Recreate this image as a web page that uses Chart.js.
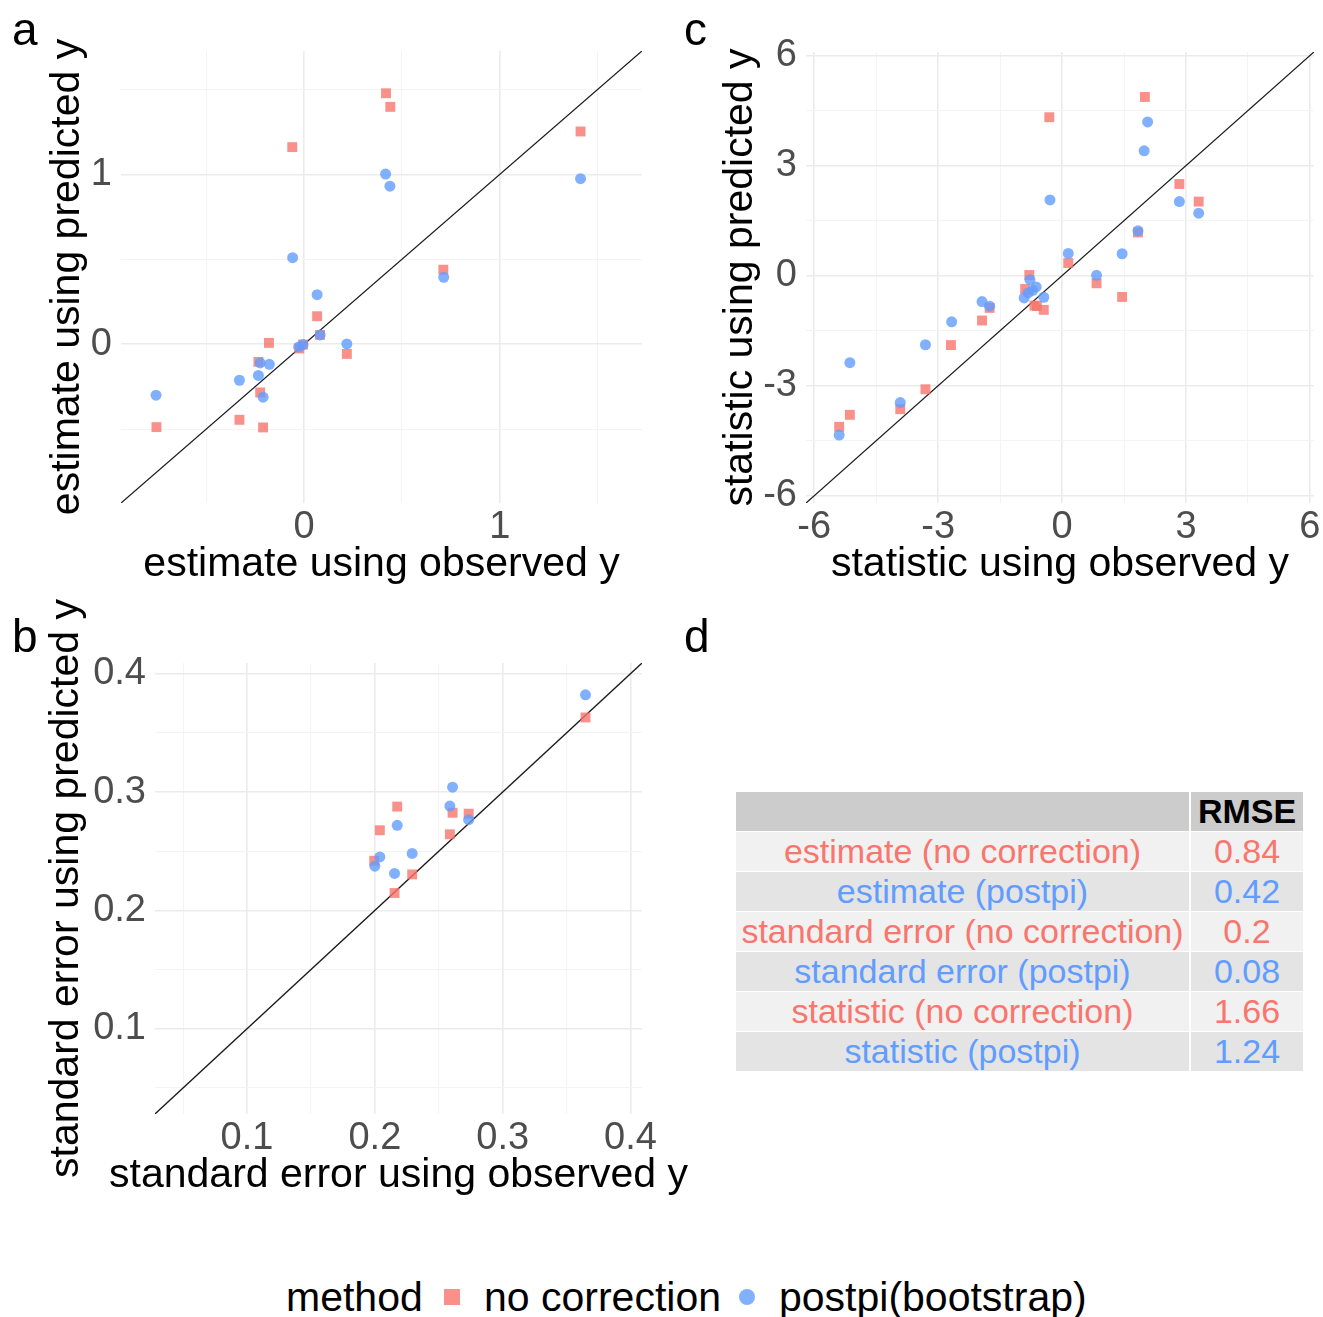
<!DOCTYPE html>
<html>
<head>
<meta charset="utf-8">
<script src="https://cdn.jsdelivr.net/npm/chart.js@4.4.1/dist/chart.umd.min.js"></script>
<style>
  body { margin: 0; background: #fff; font-family: "Liberation Sans", Arial, sans-serif; }
  #page { position: relative; width: 1323px; height: 1317px; overflow: hidden; background: #fff; }
  canvas { position: absolute; }
  .tag { position: absolute; font-size: 46px; line-height: 1; color: #000; }
  #rmse { position: absolute; left: 736px; top: 792px; border-collapse: separate; border-spacing: 0; font-size: 34px; }
  #rmse td, #rmse th { box-sizing: border-box; padding: 0; text-align: center; white-space: nowrap; border-bottom: 1px solid #fff; }
  #rmse th { background: #cccccc; height: 38px; font-weight: bold; color: #000; }
  #rmse td.val, #rmse th.val { border-left: 2px solid #fff; width: 114px; }
  #rmse td.lab, #rmse th.lab { width: 453px; }
  #rmse tr.odd td { background: #f1f1f1; height: 39.67px; }
  #rmse tr.even td { background: #e4e4e4; height: 39.67px; }
  .leg { position: absolute; font-size: 41px; line-height: 1; color: #000; top: 1277px; }
  .key { position: absolute; width: 16px; height: 16px; }
</style>
</head>
<body>
<div id="page">
  <canvas id="chartA" width="670" height="600" style="left:0px;top:0px"></canvas>
  <canvas id="chartC" width="653" height="600" style="left:670px;top:0px"></canvas>
  <canvas id="chartB" width="720" height="621" style="left:0px;top:590px"></canvas>

  <div class="tag" style="left:12px;top:6px">a</div>
  <div class="tag" style="left:12px;top:613px">b</div>
  <div class="tag" style="left:684px;top:6px">c</div>
  <div class="tag" style="left:684px;top:613px">d</div>

  <table id="rmse"></table>

  <div class="leg" style="left:286px">method</div>
  <div class="key" style="left:444px;top:1289px;background:rgba(248,118,109,0.8)"></div>
  <div class="leg" style="left:484px">no correction</div>
  <div class="key" style="left:739px;top:1289px;background:rgba(97,156,255,0.8);border-radius:50%"></div>
  <div class="leg" style="left:779px">postpi(bootstrap)</div>
</div>

<script>
// panel a: estimates
const estObsNoCorr  = [0.419, 0.441, -0.060, 1.413, 0.712, 0.067, 0.082, -0.179, -0.024, -0.005, 0.219, -0.233, -0.224, -0.330, -0.754, -0.209];
const estPredNoCorr = [1.478, 1.398, 1.161, 1.253, 0.439, 0.165, 0.055, 0.008, -0.025, -0.002, -0.057, -0.104, -0.284, -0.445, -0.488, -0.490];
const estObsPostpi  = [0.417, 0.439, 1.413, -0.058, 0.714, 0.067, 0.082, 0.219, -0.027, -0.005, -0.224, -0.177, -0.233, -0.330, -0.756, -0.209];
const estPredPostpi = [1.002, 0.931, 0.975, 0.510, 0.394, 0.292, 0.055, 0.002, -0.016, -0.002, -0.110, -0.118, -0.184, -0.212, -0.300, -0.312];

// panel b: standard errors
const seObsNoCorr  = [0.3648, 0.2175, 0.2608, 0.2734, 0.2039, 0.2587, 0.1995, 0.2292, 0.2154];
const sePredNoCorr = [0.3630, 0.2877, 0.2825, 0.2817, 0.2677, 0.2643, 0.2419, 0.2304, 0.2147];
const seObsPostpi  = [0.3648, 0.2608, 0.2587, 0.2734, 0.2175, 0.2292, 0.2039, 0.2000, 0.2154];
const sePredPostpi = [0.3821, 0.3041, 0.2881, 0.2766, 0.2719, 0.2481, 0.2452, 0.2374, 0.2312];

// panel c: statistics
const stObsNoCorr  = [2.005, -0.309, 2.840, 3.308, 1.838, 0.150, -0.794, -0.894, 0.835, 1.454, -1.754, -0.668, -0.610, -0.443, -1.938, -2.690, -3.308, -3.918, -5.138, -5.397];
const stPredNoCorr = [4.873, 4.321, 2.500, 2.020, 1.178, 0.344, 0.018, -0.362, -0.208, -0.580, -0.879, -0.815, -0.830, -0.933, -1.223, -1.893, -3.098, -3.641, -3.795, -4.121];
const stObsPostpi  = [2.072, 1.988, -0.292, 2.840, 3.308, 1.838, 0.150, 1.454, 0.835, -0.777, -0.627, -0.710, -0.819, -0.919, -0.443, -1.938, -1.754, -2.673, -3.308, -5.138, -3.918, -5.397];
const stPredPostpi = [4.194, 3.406, 2.065, 2.020, 1.703, 1.223, 0.607, 0.598, 0.009, -0.109, -0.308, -0.399, -0.471, -0.607, -0.589, -0.707, -0.833, -1.259, -1.884, -2.373, -3.460, -4.348];

// axis limits and ticks
const estLim = [-0.935, 1.727];
const estGrid = [-0.5, 0, 0.5, 1, 1.5];
const estMajor = [0, 1];
const estLabels = ['0', '1'];

const seLim = [0.028, 0.409];
const seGrid = [0.05, 0.1, 0.15, 0.2, 0.25, 0.3, 0.35, 0.4];
const seMajor = [0.1, 0.2, 0.3, 0.4];
const seLabels = ['0.1', '0.2', '0.3', '0.4'];

const stLim = [-6.2, 6.1];
const stGrid = [-6, -4.5, -3, -1.5, 0, 1.5, 3, 4.5, 6];
const stMajor = [-6, -3, 0, 3, 6];
const stLabels = ['-6', '-3', '0', '3', '6'];

// RMSE table
const rmseRows = ['estimate (no correction)', 'estimate (postpi)', 'standard error (no correction)', 'standard error (postpi)', 'statistic (no correction)', 'statistic (postpi)'];
const rmseValues = ['0.84', '0.42', '0.2', '0.08', '1.66', '1.24'];

const RED = 'rgba(248, 118, 109, 0.8)';
const BLUE = 'rgba(97, 156, 255, 0.8)';
const RED_TXT = '#F8766D';
const BLUE_TXT = '#619CFF';
const FONT = '"Liberation Sans", Arial, sans-serif';

Chart.defaults.font.family = FONT;

function toPoints(xs, ys) {
    return xs.map((x, i) => ({ x: x, y: ys[i] }));
}

function findMajor(value, majors) {
    return majors.findIndex(m => Math.abs(m - value) < 1e-9);
}

// x title drawn by hand so that long titles are not squeezed to the axis width
const xTitlePlugin = {
    id: 'xTitle',
    afterDraw(chart, args, pluginOpts) {
        const { ctx, chartArea } = chart;
        ctx.save();
        ctx.font = '41px ' + FONT;
        ctx.fillStyle = '#000';
        ctx.textAlign = 'center';
        ctx.textBaseline = 'middle';
        ctx.fillText(pluginOpts.text, (chartArea.left + chartArea.right) / 2, chartArea.bottom + 62);
        ctx.restore();
    }
};

function makeAxis(opts, isX) {
    const axis = {
        type: 'linear',
        min: opts.lim[0],
        max: opts.lim[1],
        border: { display: false },
        grid: {
            drawTicks: false,
            color: ctx => findMajor(ctx.tick.value, opts.major) >= 0 ? '#ebebeb' : '#f4f4f4',
            lineWidth: ctx => findMajor(ctx.tick.value, opts.major) >= 0 ? 1.6 : 1
        },
        ticks: {
            autoSkip: false,
            maxRotation: 0,
            color: '#4d4d4d',
            font: { size: 38 },
            padding: isX ? 2 : 9,
            callback: value => {
                const k = findMajor(value, opts.major);
                return k >= 0 ? opts.labels[k] : '';
            }
        },
        afterBuildTicks: scale => {
            scale.ticks = opts.grid.map(v => ({ value: v }));
        }
    };
    if (isX) {
        axis.title = { display: false };
        axis.afterFit = scale => { scale.height = 97; };
    } else {
        axis.title = {
            display: true,
            text: opts.yTitle,
            color: '#000',
            font: { size: 41, lineHeight: 1.2 },
            padding: { top: opts.yTitlePad, bottom: 0 }
        };
        axis.afterFit = scale => { scale.width = opts.yWidth; };
    }
    return axis;
}

function drawPanel(id, opts) {
    const ctx = document.getElementById(id);
    return new Chart(ctx, {
        type: 'scatter',
        data: {
            datasets: [
                {
                    label: 'postpi(bootstrap)',
                    data: toPoints(opts.obsPostpi, opts.predPostpi),
                    pointStyle: 'circle',
                    pointRadius: 5.5,
                    backgroundColor: BLUE,
                    borderWidth: 0
                },
                {
                    label: 'no correction',
                    data: toPoints(opts.obsNoCorr, opts.predNoCorr),
                    pointStyle: 'rect',
                    pointRadius: 7,
                    backgroundColor: RED,
                    borderWidth: 0
                },
                {
                    type: 'line',
                    label: 'y = x',
                    data: [{ x: opts.lim[0] - 1, y: opts.lim[0] - 1 }, { x: opts.lim[1] + 1, y: opts.lim[1] + 1 }],
                    borderColor: '#1a1a1a',
                    borderWidth: 1.3,
                    pointRadius: 0,
                    fill: false
                }
            ]
        },
        options: {
            responsive: false,
            devicePixelRatio: 1,
            animation: false,
            events: [],
            layout: { padding: opts.padding },
            plugins: {
                legend: { display: false },
                tooltip: { enabled: false },
                xTitle: { text: opts.xTitle }
            },
            scales: {
                x: makeAxis(opts, true),
                y: makeAxis(opts, false)
            }
        },
        plugins: [xTitlePlugin]
    });
}

drawPanel('chartA', {
    obsNoCorr: estObsNoCorr, predNoCorr: estPredNoCorr,
    obsPostpi: estObsPostpi, predPostpi: estPredPostpi,
    lim: estLim, grid: estGrid, major: estMajor, labels: estLabels,
    xTitle: 'estimate using observed y', yTitle: 'estimate using predicted y',
    yWidth: 121, yTitlePad: 43,
    padding: { left: 0, right: 28, top: 51, bottom: 0 }
});

drawPanel('chartC', {
    obsNoCorr: stObsNoCorr, predNoCorr: stPredNoCorr,
    obsPostpi: stObsPostpi, predPostpi: stPredPostpi,
    lim: stLim, grid: stGrid, major: stMajor, labels: stLabels,
    xTitle: 'statistic using observed y', yTitle: 'statistic using predicted y',
    yWidth: 136, yTitlePad: 46,
    padding: { left: 0, right: 9, top: 52, bottom: 0 }
});

drawPanel('chartB', {
    obsNoCorr: seObsNoCorr, predNoCorr: sePredNoCorr,
    obsPostpi: seObsPostpi, predPostpi: sePredPostpi,
    lim: seLim, grid: seGrid, major: seMajor, labels: seLabels,
    xTitle: 'standard error using observed y', yTitle: 'standard error using predicted y',
    yWidth: 155, yTitlePad: 42,
    padding: { left: 0, right: 78, top: 73, bottom: 0 }
});

// RMSE table (panel d)
const table = document.getElementById('rmse');
let html = '<tr><th class="lab"></th><th class="val">RMSE</th></tr>';
rmseRows.forEach((name, i) => {
    const col = i % 2 === 0 ? RED_TXT : BLUE_TXT;
    const cls = i % 2 === 0 ? 'odd' : 'even';
    html += '<tr class="' + cls + '"><td class="lab" style="color:' + col + '">' + name +
        '</td><td class="val" style="color:' + col + '">' + rmseValues[i] + '</td></tr>';
});
table.innerHTML = html;
</script>
</body>
</html>
